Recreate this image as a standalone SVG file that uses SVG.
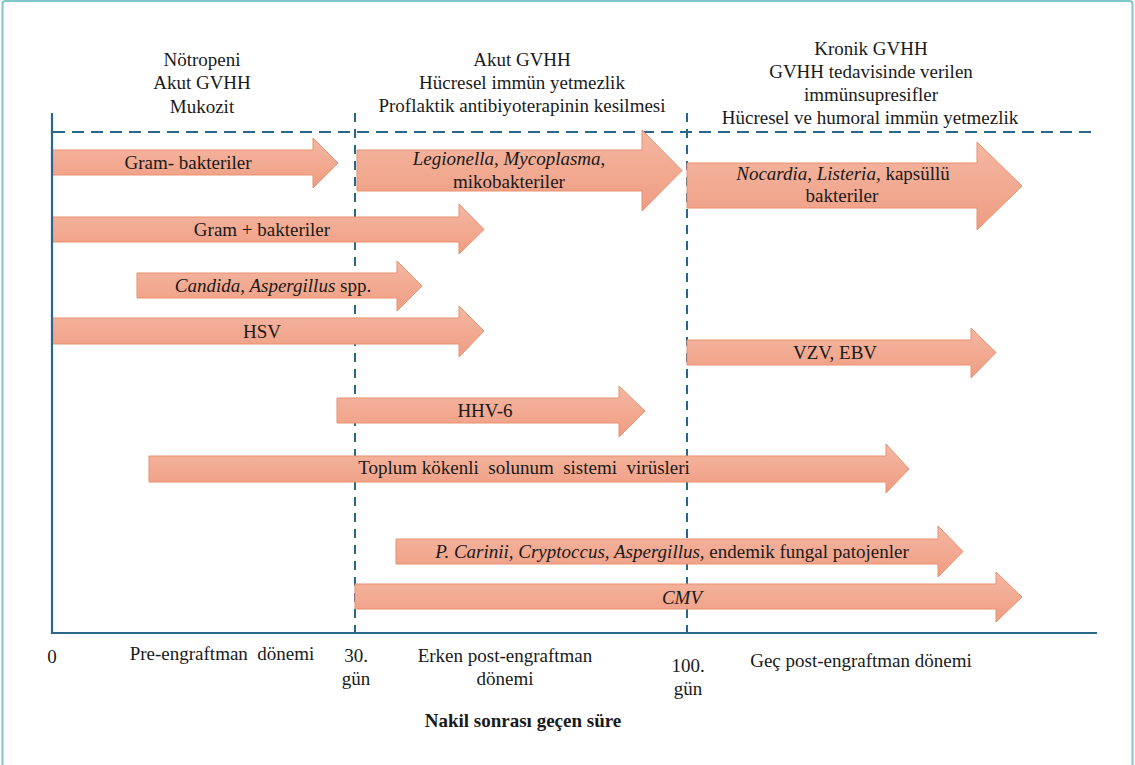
<svg xmlns="http://www.w3.org/2000/svg" width="1135" height="765" viewBox="0 0 1135 765">
<defs>
<linearGradient id="g" x1="0" y1="0" x2="0" y2="1">
<stop offset="0" stop-color="#f5b7a2"/>
<stop offset="1" stop-color="#ef9d82"/>
</linearGradient>
<style>
text{font-family:'Liberation Serif','Tinos','Times New Roman','DejaVu Serif',serif;font-size:19px;fill:#1a1a1a;text-anchor:middle}
.it{font-style:italic}
.b{font-weight:bold}
.arr{fill:url(#g);stroke:#e8916f;stroke-width:1}
.axis{stroke:#2b6788;stroke-width:2.2;fill:none}
.dh{stroke:#2b6788;stroke-width:2;stroke-dasharray:12 7;fill:none}
.dv{stroke:#2b6788;stroke-width:2;stroke-dasharray:9 7;fill:none}
</style>
</defs>
<rect x="2.5" y="1" width="1130" height="800" rx="3" fill="#fff" stroke="#7fc6cd" stroke-width="2"/>

<g id="connectors">
<line class="dh" x1="53" y1="132" x2="1098" y2="132"/>
<line class="dv" x1="355" y1="113" x2="355" y2="633"/>
<line class="dv" x1="687" y1="113" x2="687" y2="633"/>
</g>

<g id="headers" font-family="Liberation Serif, serif">
<text x="202" y="66">Nötropeni</text>
<text x="202" y="89">Akut GVHH</text>
<text x="202" y="113">Mukozit</text>
<text x="522" y="66">Akut GVHH</text>
<text x="522" y="89">Hücresel immün yetmezlik</text>
<text x="522" y="112">Proflaktik antibiyoterapinin kesilmesi</text>
<text x="871" y="55">Kronik GVHH</text>
<text x="871" y="78">GVHH tedavisinde verilen</text>
<text x="871" y="101">immünsupresifler</text>
<text x="870" y="124">Hücresel ve humoral immün yetmezlik</text>
</g>

<g id="arrows">
<g id="gram-neg"><path class="arr" d="M52,150 H313 V138 L338,163 L313,188 V175 H52 Z"/><text x="188" y="169">Gram- bakteriler</text></g>
<g id="legionella"><path class="arr" d="M357,150 H642 V130 L682,170.5 L642,211 V191 H357 Z"/><text x="509" y="165"><tspan class="it">Legionella</tspan>, <tspan class="it">Mycoplasma</tspan>,</text><text x="509" y="188">mikobakteriler</text></g>
<g id="nocardia"><path class="arr" d="M687,163 H977 V142 L1022,186 L977,230 V208 H687 Z"/><text x="843" y="180"><tspan class="it">Nocardia, Listeria,</tspan> kapsüllü</text><text x="842" y="202">bakteriler</text></g>
<g id="gram-pos"><path class="arr" d="M52,217 H459 V204 L484,229.5 L459,254 V242 H52 Z"/><text x="262" y="236">Gram + bakteriler</text></g>
<g id="candida"><path class="arr" d="M137,273 H397 V261 L422,286 L397,311 V298 H137 Z"/><text x="273" y="292"><tspan class="it">Candida, Aspergillus</tspan> spp.</text></g>
<g id="hsv"><path class="arr" d="M52,318 H459 V306 L484,331 L459,357 V344 H52 Z"/><text x="262" y="338">HSV</text></g>
<g id="vzv"><path class="arr" d="M687,340 H971 V328 L996,352.5 L971,378 V365 H687 Z"/><text x="835" y="359">VZV, EBV</text></g>
<g id="hhv6"><path class="arr" d="M337,398 H619 V386 L645,411 L619,437 V423 H337 Z"/><text x="485" y="417">HHV-6</text></g>
<g id="toplum"><path class="arr" d="M149,456 H886 V444 L909,469 L886,493 V482 H149 Z"/><text x="524" y="474" xml:space="preserve">Toplum kökenli  solunum  sistemi  virüsleri</text></g>
<g id="pcarinii"><path class="arr" d="M396,539 H938 V526 L963,551.5 L938,577 V564 H396 Z"/><text x="672" y="558"><tspan class="it">P. Carinii, Cryptoccus, Aspergillus,</tspan> endemik fungal patojenler</text></g>
<g id="cmv"><path class="arr" d="M355,584 H996 V572 L1022,597 L996,622 V609 H355 Z"/><text class="it" x="682" y="604">CMV</text></g>
</g>

<g id="axes">
<path class="axis" d="M52,113 V633 H1097"/>
</g>

<g id="axis-labels">
<text x="52" y="663">0</text>
<text x="222" y="660" xml:space="preserve">Pre-engraftman  dönemi</text>
<text x="356" y="662">30.</text>
<text x="356" y="685">gün</text>
<text x="505" y="662">Erken post-engraftman</text>
<text x="505" y="685">dönemi</text>
<text x="688" y="672">100.</text>
<text x="688" y="695">gün</text>
<text x="861" y="667">Geç post-engraftman dönemi</text>
<text class="b" x="523" y="727">Nakil sonrası geçen süre</text>
</g>
</svg>
